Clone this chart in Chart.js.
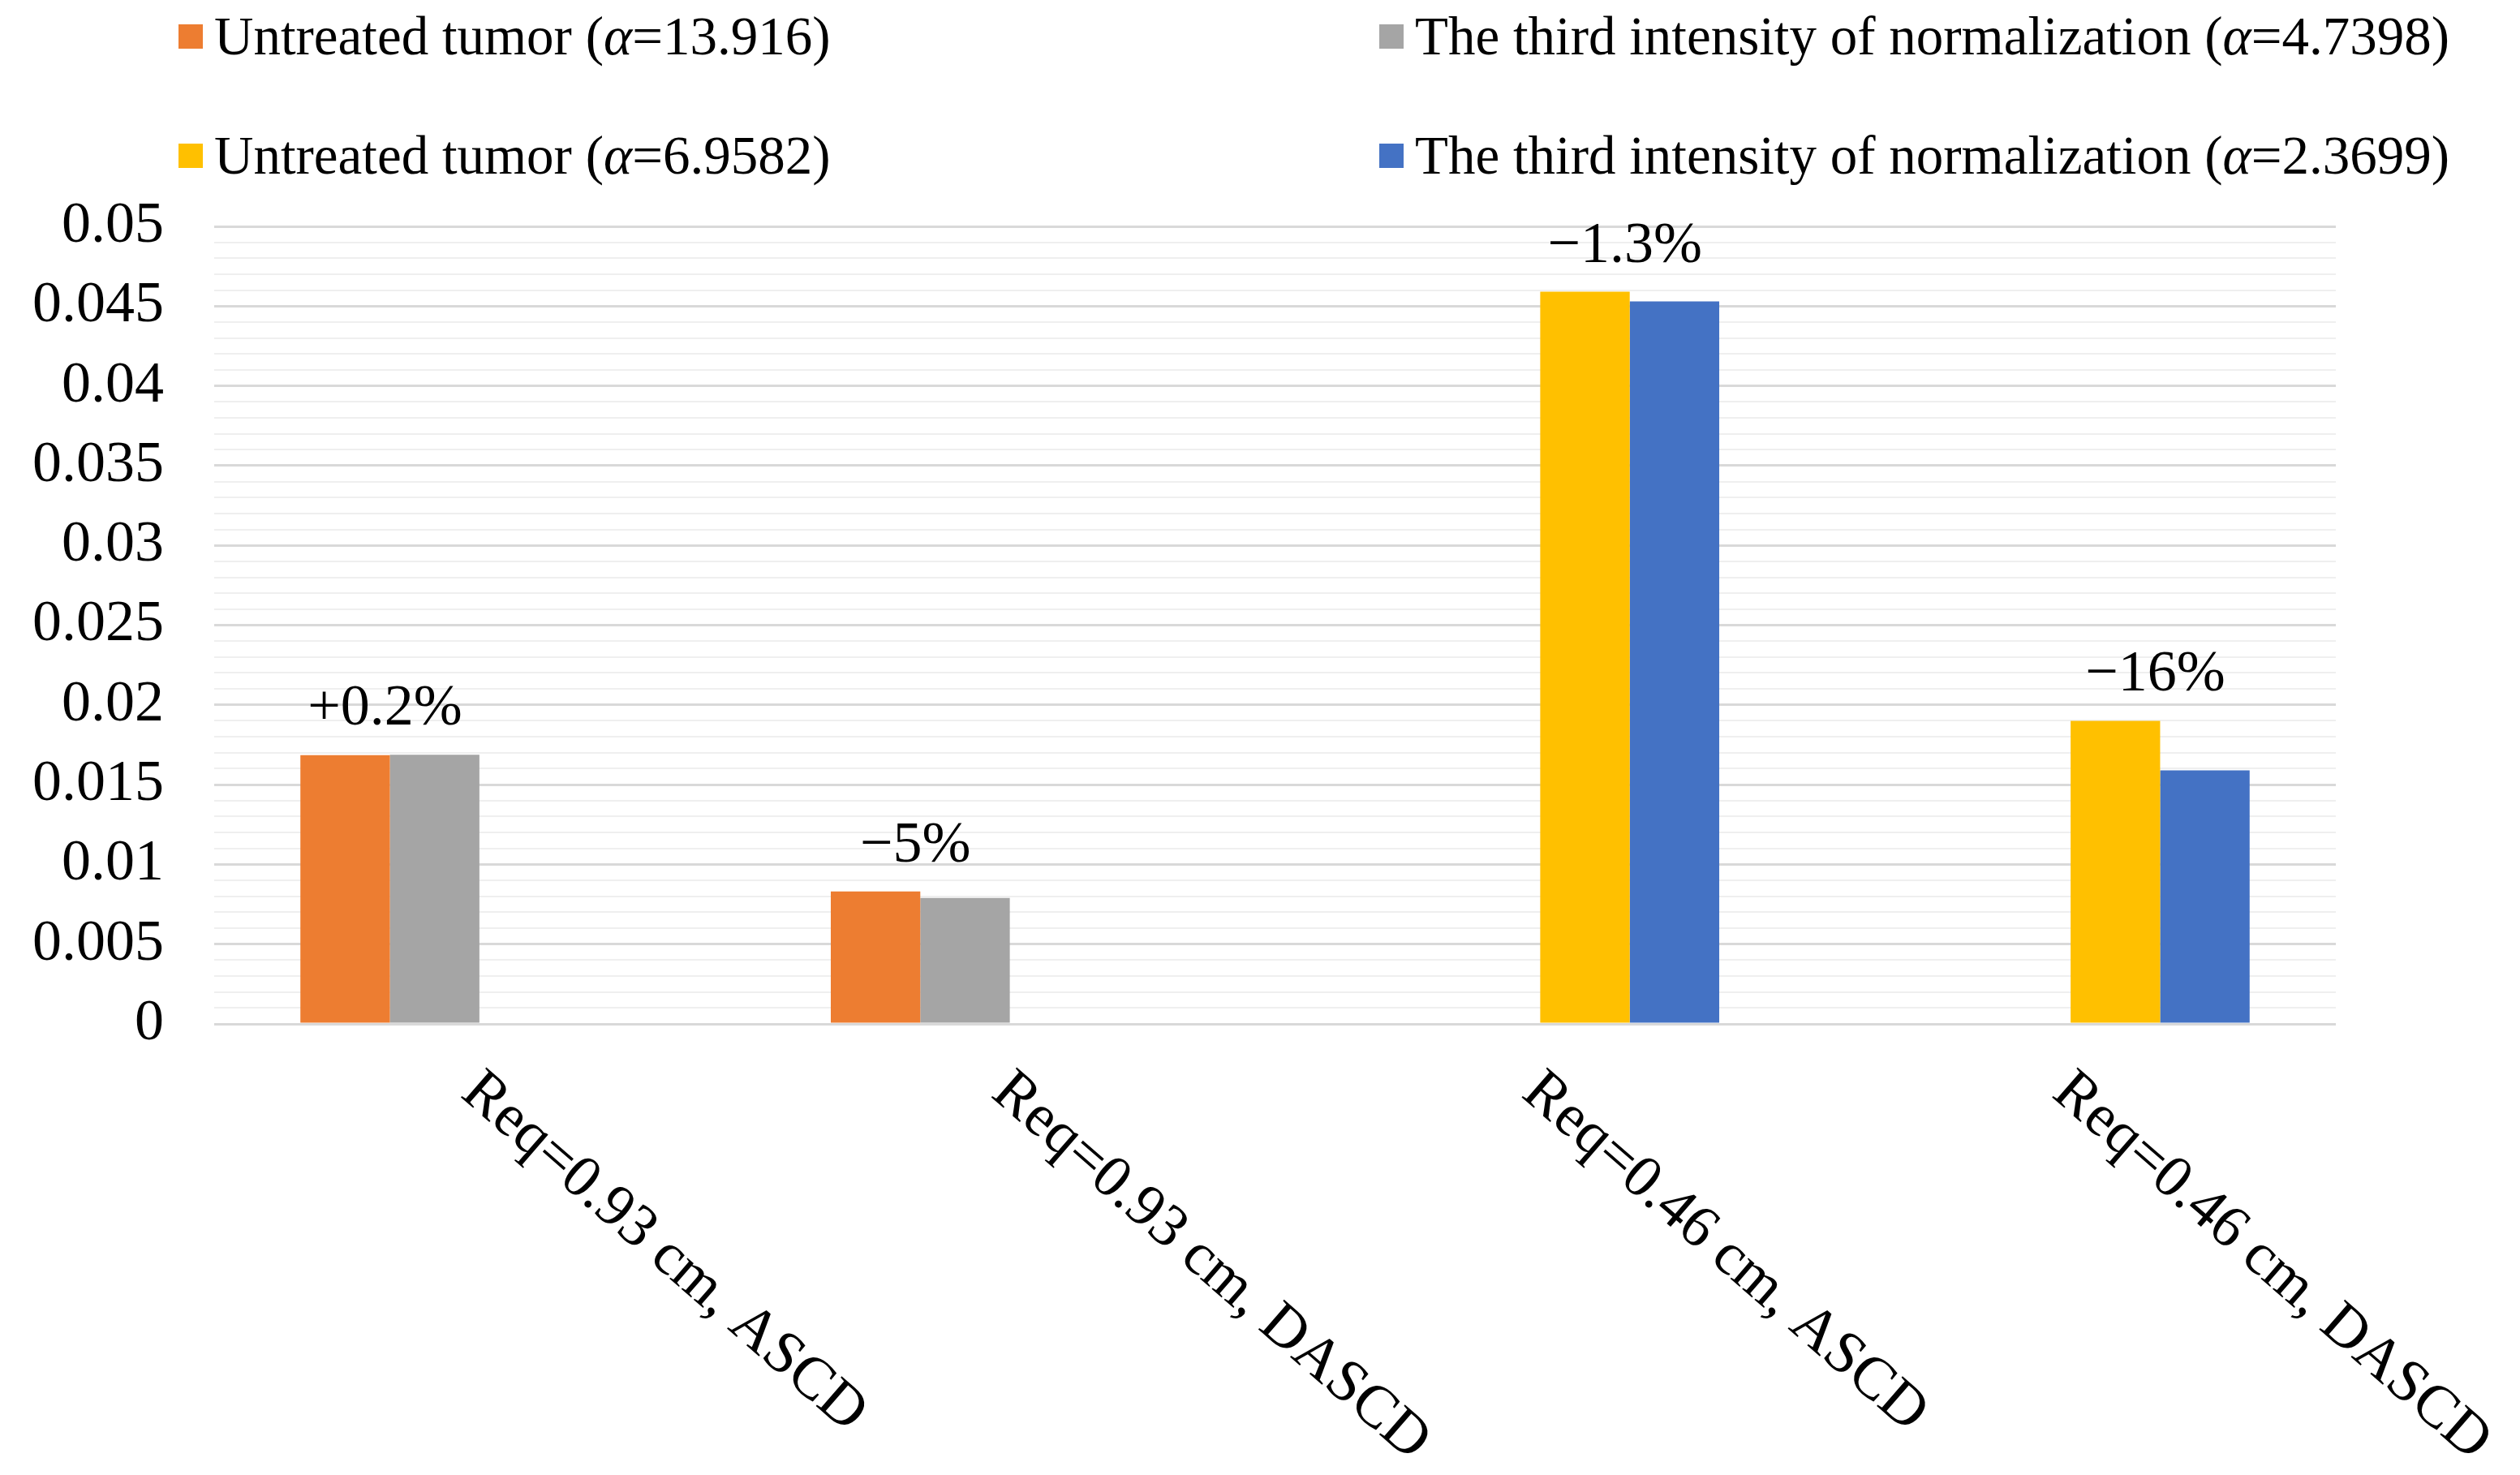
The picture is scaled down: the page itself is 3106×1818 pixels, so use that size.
<!DOCTYPE html>
<html>
<head>
<meta charset="utf-8">
<script src="https://cdn.jsdelivr.net/npm/chart.js@4.4.1/dist/chart.umd.min.js"></script>
<style>
  html, body { margin: 0; padding: 0; background: #fff; }
  #wrap { position: relative; width: 3106px; height: 1818px; overflow: hidden; }
  #chart { position: absolute; left: 0; top: 0; }
  .item {
    position: absolute; display: flex; align-items: center;
    font-family: "Liberation Serif", "Times New Roman", serif;
    font-size: 67px; line-height: 1; color: #000; white-space: nowrap;
  }
  .item .box { width: 30px; height: 30px; margin-right: 14px; flex: none; }
</style>
</head>
<body>
<div id="wrap">
  <canvas id="chart" width="3106" height="1818"></canvas>
  <div id="legend"></div>
</div>
<script>
const categories = [
  "Req=0.93 cm, ASCD",
  "Req=0.93 cm, DASCD",
  "Req=0.46 cm, ASCD",
  "Req=0.46 cm, DASCD",
];

// four series, each only present in two of the categories
const untreated13916 = [0.01685, 0.0083, null, null];
const third47398 = [0.01688, 0.0079, null, null];
const untreated69582 = [null, null, 0.0459, 0.0190];
const third23699 = [null, null, 0.0453, 0.0159];

const seriesNames = [
  "Untreated tumor (<i>α</i>=13.916)",
  "The third intensity of normalization (<i>α</i>=4.7398)",
  "Untreated tumor (<i>α</i>=6.9582)",
  "The third intensity of normalization (<i>α</i>=2.3699)",
];
const seriesColors = ["#ED7D31", "#A5A5A5", "#FFC000", "#4472C4"];

const changeLabels = ["+0.2%", "\u22125%", "\u22121.3%", "\u221216%"];

const yTickLabels = ["0", "0.005", "0.01", "0.015", "0.02", "0.025", "0.03", "0.035", "0.04", "0.045", "0.05"];

const SERIF = '"Liberation Serif", "Times New Roman", serif';

// --- Legend (two columns, two rows) ------------------------------------

const legendSpots = [
  { left: 220, top: 11 },
  { left: 1700, top: 11 },
  { left: 220, top: 158 },
  { left: 1700, top: 158 },
];

document.querySelector("#legend").innerHTML = seriesNames
  .map((name, i) => `
    <div class="item" style="left:${legendSpots[i].left}px;top:${legendSpots[i].top}px">
      <span class="box" style="background:${seriesColors[i]}"></span><span>${name}</span>
    </div>`)
  .join("");

// --- Plugins -------------------------------------------------------------

const isMajor = (v) => Math.round(v * 1000) % 5 === 0;

const changeLabelPlugin = {
  id: "changeLabels",
  afterDatasetsDraw(chart) {
    const ctx = chart.ctx;
    ctx.save();
    ctx.font = `72px ${SERIF}`;
    ctx.fillStyle = "#000";
    ctx.textAlign = "center";
    ctx.textBaseline = "middle";
    categories.forEach((c, i) => {
      const bars = [];
      chart.data.datasets.forEach((ds, d) => {
        if (ds.data[i] != null) bars.push(chart.getDatasetMeta(d).data[i]);
      });
      if (!bars.length) return;
      const x = bars.reduce((s, b) => s + b.x, 0) / bars.length;
      const y = Math.min(...bars.map((b) => b.y));
      ctx.fillText(changeLabels[i], x - 6, y - 56);
    });
    ctx.restore();
  },
};

// category labels slant down to the right, starting under each group
const slantedLabelPlugin = {
  id: "slantedLabels",
  afterDraw(chart) {
    const ctx = chart.ctx;
    const xs = chart.scales.x;
    ctx.save();
    ctx.font = `74px ${SERIF}`;
    ctx.fillStyle = "#000";
    ctx.textAlign = "left";
    ctx.textBaseline = "middle";
    categories.forEach((c, i) => {
      ctx.save();
      ctx.translate(xs.getPixelForTick(i) - 12, chart.chartArea.bottom + 74);
      ctx.rotate((41 * Math.PI) / 180);
      ctx.fillText(c, 0, 0);
      ctx.restore();
    });
    ctx.restore();
  },
};

// --- Chart -----------------------------------------------------------------

new Chart(document.querySelector("#chart"), {
  type: "bar",
  data: {
    labels: categories,
    datasets: [untreated13916, third47398, untreated69582, third23699].map((data, i) => ({
      label: seriesNames[i],
      data,
      backgroundColor: seriesColors[i],
      borderWidth: 0,
    })),
  },
  options: {
    responsive: false,
    animation: false,
    devicePixelRatio: 1,
    layout: { padding: { left: 0, right: 227, top: 279, bottom: 556 } },
    datasets: { bar: { categoryPercentage: 0.675, barPercentage: 1 } },
    plugins: { legend: { display: false }, tooltip: { enabled: false } },
    scales: {
      x: { display: false },
      y: {
        min: 0,
        max: 0.05,
        afterFit: (s) => { s.width = 264; },
        border: { display: false },
        grid: {
          drawTicks: false,
          color: (c) => (isMajor(c.tick.value) ? "#d9d9d9" : "#efefef"),
          lineWidth: (c) => (isMajor(c.tick.value) ? 3 : 2),
        },
        ticks: {
          stepSize: 0.001,
          autoSkip: false,
          padding: 62,
          color: "#000",
          font: { family: SERIF, size: 72 },
          callback: (v) => (isMajor(v) ? yTickLabels[Math.round(v * 200)] : ""),
        },
      },
    },
  },
  plugins: [changeLabelPlugin, slantedLabelPlugin],
});
</script>
</body>
</html>
